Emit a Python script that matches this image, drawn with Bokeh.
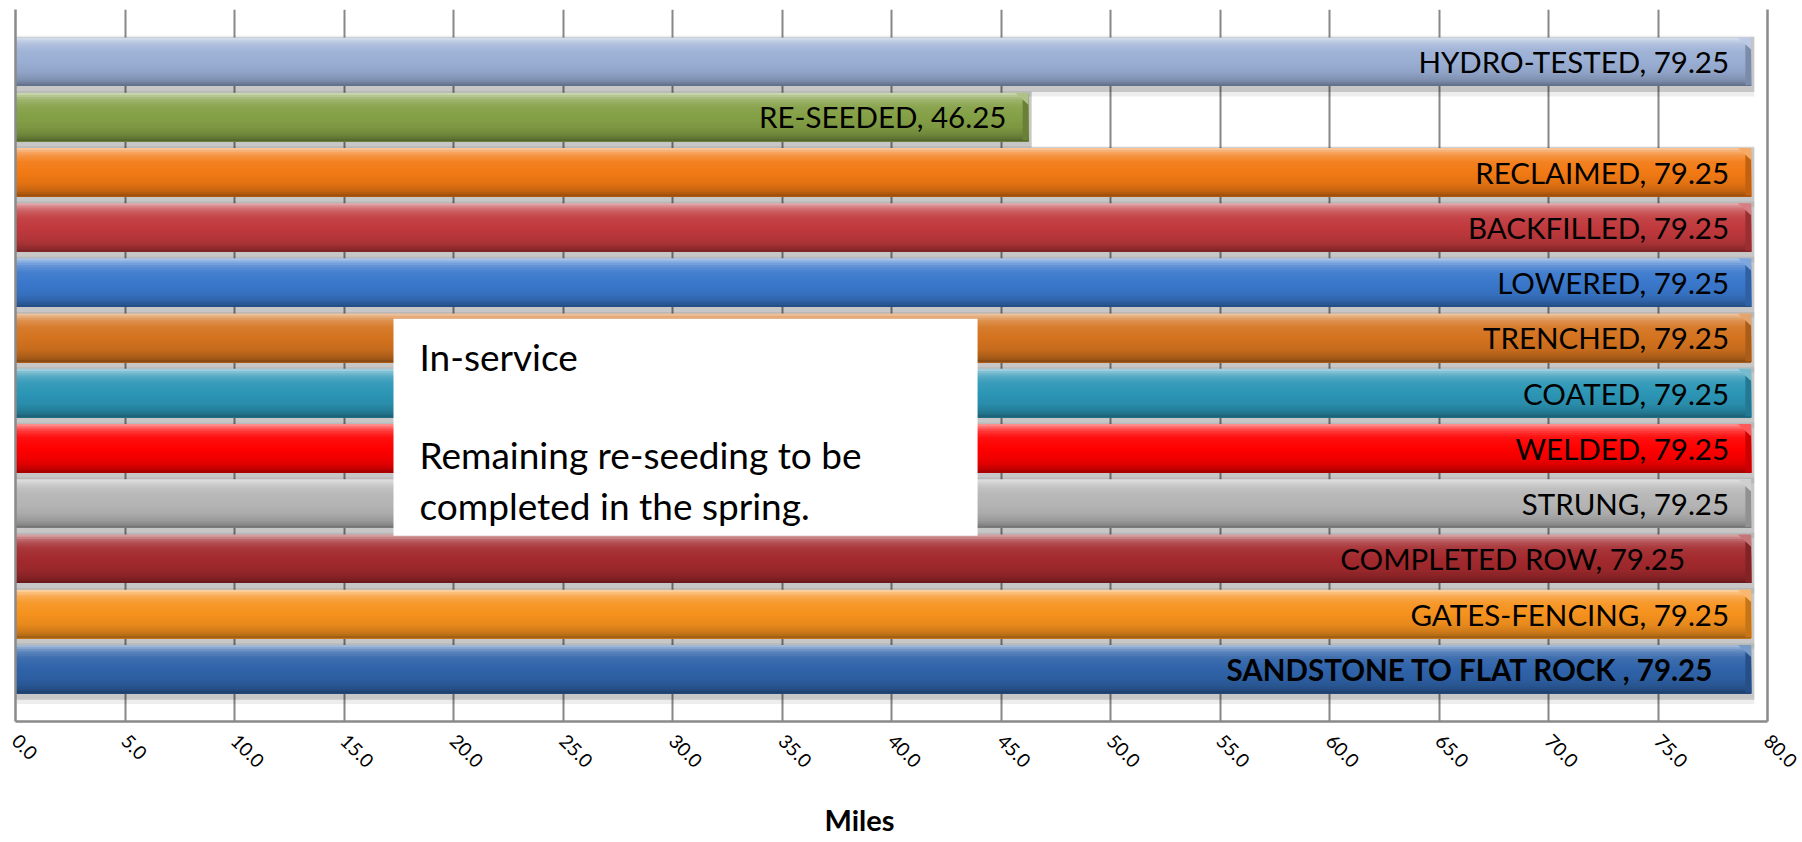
import numpy as np
from bokeh.plotting import figure
from bokeh.models import (ColumnDataSource, Range1d, FixedTicker, LinearAxis,
                          BoxAnnotation, Label, Title)
from bokeh.core.properties import value
from bokeh.embed import file_html
from bokeh.resources import INLINE

# ---------------- data (top bar first) ----------------
categories = ["HYDRO-TESTED", "RE-SEEDED", "RECLAIMED", "BACKFILLED", "LOWERED",
              "TRENCHED", "COATED", "WELDED", "STRUNG", "COMPLETED ROW",
              "GATES-FENCING", "SANDSTONE TO FLAT ROCK "]
miles = [79.25, 46.25, 79.25, 79.25, 79.25, 79.25, 79.25, 79.25, 79.25, 79.25,
         79.25, 79.25]
x_ticks = [0, 5, 10, 15, 20, 25, 30, 35, 40, 45, 50, 55, 60, 65, 70, 75, 80]
x_tick_labels = ["0.0", "5.0", "10.0", "15.0", "20.0", "25.0", "30.0", "35.0",
                 "40.0", "45.0", "50.0", "55.0", "60.0", "65.0", "70.0", "75.0",
                 "80.0"]
axis_title = "Miles"
note_lines = ["In-service", "", "Remaining re-seeding to be",
              "completed in the spring."]
note_x = [17.26, 43.93]      # box extent in miles
note_y = [2.417, 6.348]      # box extent in category units

# ---------------- styles ----------------
bar_colors = ["#9AAED4", "#84A046", "#F27A14", "#C0393D", "#3A78CC", "#D4731F",
              "#2C96B6", "#FF0000", "#B5B5B5", "#A32A2E", "#F6921E", "#2F63A9"]
label_dx = [-22, -22, -22, -22, -22, -22, -22, -22, -22, -66, -22, -37]
label_style = ["normal"] * 11 + ["bold"]
note_dy = [-38, 0, -136, -187]
FONT = "Lato"
BAR_H = 0.88

n = len(categories)
ypos = [n - 1 - i for i in range(n)]


def mix(hexc, s):
    rgb = [int(hexc[k:k + 2], 16) for k in (1, 3, 5)]
    tgt = 255 if s >= 0 else 0
    k = abs(s)
    return "#%02x%02x%02x" % tuple(int(round(c + (tgt - c) * k)) for c in rgb)


p = figure(width=1802, height=842, output_backend="svg", toolbar_location=None,
           x_range=Range1d(0, 80), y_range=Range1d(-0.946, 11.946),
           min_border_left=15, min_border_right=35, min_border_top=9,
           min_border_bottom=121)
p.background_fill_color = "white"
p.border_fill_color = "white"
p.outline_line_color = None
p.ygrid.visible = False

# x axis
p.xaxis.ticker = FixedTicker(ticks=x_ticks)
p.xaxis.major_label_overrides = {t: l for t, l in zip(x_ticks, x_tick_labels)}
p.xaxis.major_label_orientation = -np.pi / 4
p.xaxis.major_label_text_font = FONT
p.xaxis.major_label_text_font_size = "19px"
p.xaxis.major_label_text_color = "black"
p.xaxis.major_tick_out = 0
p.xaxis.major_tick_in = 0
p.xaxis.minor_tick_out = 0
p.xaxis.minor_tick_in = 0
p.xaxis.axis_line_color = "#8a8a8a"
p.xaxis.axis_line_width = 2.5
p.xaxis.major_label_standoff = 16
p.xgrid.ticker = FixedTicker(ticks=x_ticks)
p.xgrid.grid_line_color = "#878787"
p.xgrid.grid_line_width = 2

# left / right border lines (axes without ticks or labels)
ly = p.yaxis[0]
ly.ticker = FixedTicker(ticks=[])
ly.major_tick_out = 0
ly.major_tick_in = 0
ly.minor_tick_out = 0
ly.minor_tick_in = 0
ly.major_label_standoff = 0
ly.axis_line_color = "#8a8a8a"
ly.axis_line_width = 2.5
rax = LinearAxis(ticker=FixedTicker(ticks=[]), major_tick_out=0, major_tick_in=0,
                 minor_tick_out=0, minor_tick_in=0, major_label_standoff=0,
                 axis_line_color="#8a8a8a", axis_line_width=2.5)
p.add_layout(rax, "right")

# axis title (leading empty line pushes it toward the bottom edge)
p.add_layout(Title(text="\n" + axis_title, align="left", offset=809, standoff=0,
                   vertical_align="bottom", text_line_height=0.65,
                   text_font=FONT, text_font_size="29px",
                   text_font_style="bold", text_color="black"), "below")

# soft shadows under bars
for dh, dy, a in [(0.22, -0.08, 0.07), (0.12, -0.05, 0.16)]:
    p.hbar(y=[yy + dy for yy in ypos], left=0, right=[m + 0.15 for m in miles],
           height=BAR_H + dh, fill_color="black", fill_alpha=a, line_color=None)

# gradient bars built from overlapping horizontal strips (top to bottom)
tp = [0.0, 0.05, 0.14, 0.28, 0.5, 0.72, 0.86, 0.95, 1.0]
sp = [0.62, 0.45, 0.22, 0.06, 0.0, -0.06, -0.16, -0.28, -0.40]
NS = 22
for j in range(NS):
    t0 = j / NS
    tm = (j + 0.5) / NS
    s = float(np.interp(tm, tp, sp))
    h = BAR_H * (1 - t0)
    src = ColumnDataSource(dict(
        y=[yy - BAR_H / 2 + h / 2 for yy in ypos],
        right=miles,
        color=[mix(c, s) for c in bar_colors]))
    p.hbar(y="y", left=0, right="right", height=h, source=src,
           fill_color="color", line_color=None)

# end bevels: darker end face and a lighter corner facet
bev = ColumnDataSource(dict(y=ypos, left=[m - 0.26 for m in miles], right=miles,
                            color=[mix(c, -0.2) for c in bar_colors]))
p.hbar(y="y", left="left", right="right", height=BAR_H * 0.96, source=bev,
       fill_color="color", line_color=None)
tri_x = [[m - 0.6, m, m] for m in miles]
tri_y = [[yy + BAR_H / 2, yy + BAR_H / 2, yy + BAR_H / 2 - 0.22] for yy in ypos]
p.patches(xs=tri_x, ys=tri_y, fill_color=[mix(c, 0.35) for c in bar_colors],
          line_color=None)

# bar labels
lab = ColumnDataSource(dict(
    x=miles, y=ypos,
    text=[f"{c}, {m:.2f}" for c, m in zip(categories, miles)],
    dx=label_dx, style=label_style))
p.text(x="x", y="y", text="text", x_offset="dx", y_offset=0, source=lab,
       text_align="right", text_baseline="middle", text_font=value(FONT),
       text_font_size=value("29.5px"), text_font_style="style",
       text_color="black")

# note box
p.add_layout(BoxAnnotation(left=note_x[0], right=note_x[1], bottom=note_y[0],
                           top=note_y[1], fill_color="white", fill_alpha=1.0,
                           line_color=None))
for line, dy in zip(note_lines, note_dy):
    if line:
        p.add_layout(Label(x=note_x[0], y=note_y[1], x_offset=26, y_offset=dy,
                           text=line, text_font=FONT, text_font_size="37px",
                           text_baseline="middle", text_color="black"))

open("out.html", "w").write(file_html(p, INLINE))
